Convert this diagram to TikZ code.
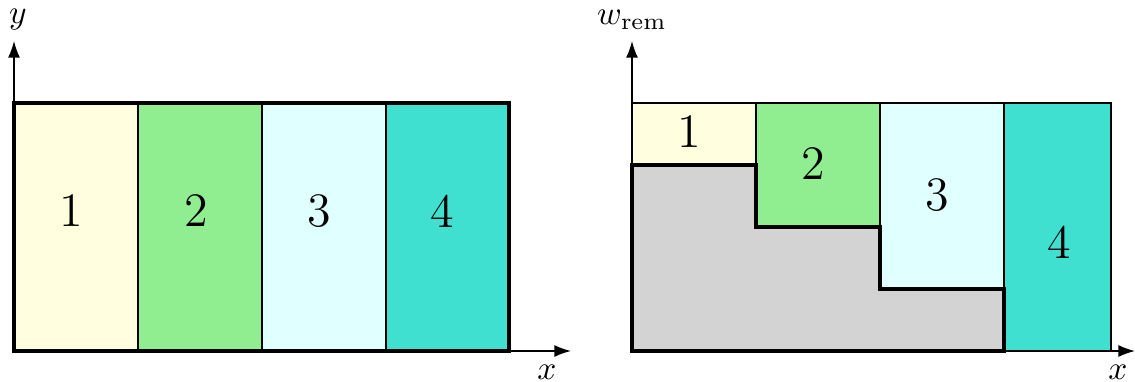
\documentclass[tikz,border=0pt]{standalone}
\usetikzlibrary{arrows.meta}
\definecolor{cA}{RGB}{255,255,224}
\definecolor{cB}{RGB}{144,238,144}
\definecolor{cC}{RGB}{224,255,255}
\definecolor{cD}{RGB}{64,224,208}
\definecolor{cG}{RGB}{211,211,211}
\begin{document}
\begin{tikzpicture}[x=0.3pt,y=-0.3pt,
  axis/.style={line width=0.45pt,-{Latex[length=5pt,width=3.6pt]}},
  thinbox/.style={draw=black,line width=0.6pt},
  thickline/.style={draw=black,line width=1.2pt},
  num/.style={font=\Large,inner sep=0pt},
  lab/.style={font=\normalsize,inner sep=0pt}]
\useasboundingbox (0,0) rectangle (1135,382);
% ---------- left panel ----------
\coordinate (O1) at (14,351);
\coordinate (Y1) at (14,41);
\coordinate (X1) at (571,351);
\draw[axis] (O1) -- (Y1);
\draw[axis] (O1) -- (X1);
\fill[cA] (14,103) rectangle (138,351);
\fill[cB] (138,103) rectangle (262,351);
\fill[cC] (262,103) rectangle (386,351);
\fill[cD] (386,103) rectangle (509,351);
\draw[thinbox] (138,103) -- (138,351);
\draw[thinbox] (262,103) -- (262,351);
\draw[thinbox] (386,103) -- (386,351);
\draw[thickline] (14,103) rectangle (509,351);
\node[num] (l1) at (71,211) {1};
\node[num] (l2) at (196,211) {2};
\node[num] (l3) at (319,211) {3};
\node[num] (l4) at (442,211) {4};
\node[lab] (ly) at (18,20) {$y$};
\node[lab] (lx) at (547,372) {$x$};
% ---------- right panel ----------
\coordinate (O2) at (632,351);
\coordinate (Y2) at (632,41);
\coordinate (X2) at (1135,351);
\draw[axis] (O2) -- (Y2);
\draw[axis] (O2) -- (X2);
\filldraw[fill=cA,thinbox] (632,103) rectangle (756,165);
\filldraw[fill=cB,thinbox] (756,103) rectangle (880,227);
\filldraw[fill=cC,thinbox] (880,103) rectangle (1004,289);
\filldraw[fill=cD,thinbox] (1004,103) rectangle (1111,351);
\filldraw[fill=cG,thickline] (632,351) -- (632,165) -- (756,165) -- (756,227)
  -- (880,227) -- (880,289) -- (1004,289) -- (1004,351) -- cycle;
\node[num] (r1) at (689,132) {1};
\node[num] (r2) at (813,164) {2};
\node[num] (r3) at (937,195) {3};
\node[num] (r4) at (1059,242) {4};
\node[lab] (lw) at (632,20) {$w_{\mathrm{rem}}$};
\node[lab] (lx2) at (1118,372) {$x$};
\end{tikzpicture}
\end{document}
